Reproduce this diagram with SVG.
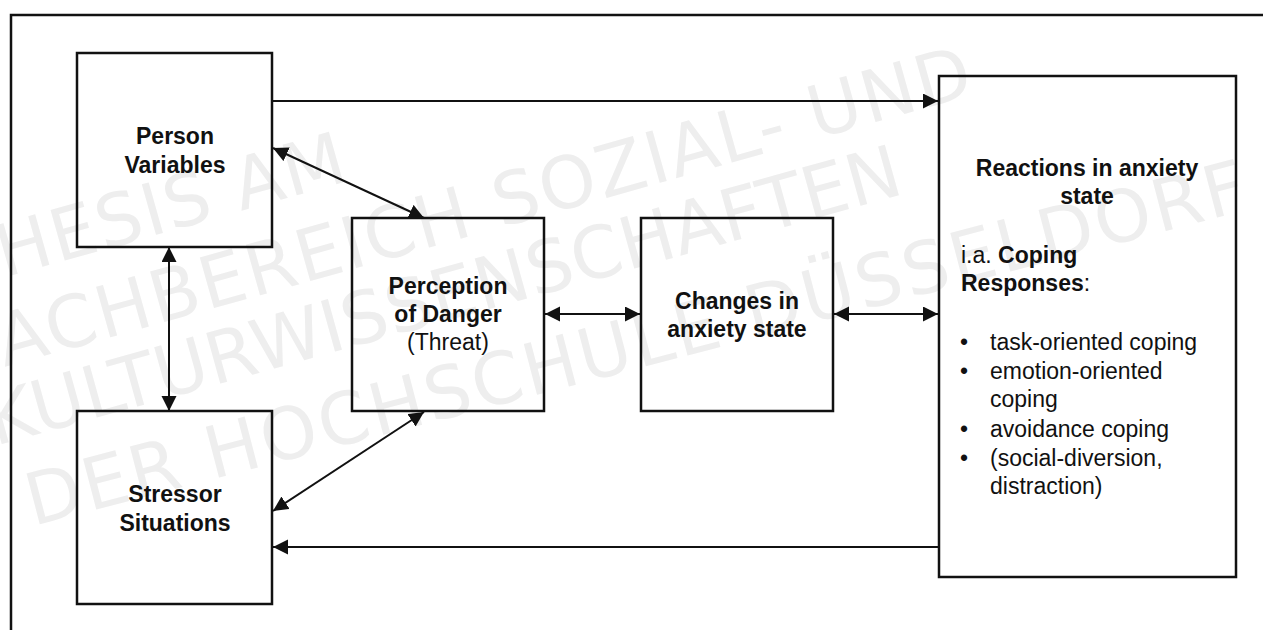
<svg xmlns="http://www.w3.org/2000/svg" width="1263" height="630" viewBox="0 0 1263 630">
<style>
.wm{font-family:"DejaVu Sans","Liberation Sans",sans-serif;font-size:72px;fill:#eeeeee}
.box{fill:none;stroke:#111;stroke-width:2.5}
.b{font-family:"Liberation Sans",Arial,sans-serif;font-size:23px;font-weight:bold;fill:#111;text-anchor:middle}
.n{font-family:"Liberation Sans",Arial,sans-serif;font-size:23px;fill:#111}
.c{stroke:#111;stroke-width:2;fill:none}
</style>
<defs>
<marker id="ah" markerUnits="userSpaceOnUse" markerWidth="16" markerHeight="16" refX="15" refY="7.5" orient="auto-start-reverse">
<path d="M0,0 L15,7.5 L0,15 z" fill="#111"/>
</marker>
</defs>
<rect width="1263" height="630" fill="#fff"/>
<g id="watermark">
<text class="wm" transform="translate(-40,290) rotate(-15.7)" textLength="405" lengthAdjust="spacing">THESIS AM</text>
<text class="wm" transform="translate(-31,377) rotate(-15.7)" textLength="1046" lengthAdjust="spacing">FACHBEREICH SOZIAL- UND</text>
<text class="wm" transform="translate(-5,446) rotate(-15.5)" textLength="945" lengthAdjust="spacing">KULTURWISSENSCHAFTEN</text>
<text class="wm" transform="translate(33,526) rotate(-14.6)" textLength="1258" lengthAdjust="spacing">DER HOCHSCHULE DÜSSELDORF</text>
</g>
<rect id="frame" x="11" y="15" width="1300" height="700" fill="none" stroke="#111" stroke-width="2.5"/>
<g id="person">
<rect class="box" x="77" y="53" width="195" height="194"/>
<text class="b" x="175" y="144">Person</text>
<text class="b" x="175" y="173">Variables</text>
</g>
<g id="stressor">
<rect class="box" x="77" y="411" width="195" height="193"/>
<text class="b" x="175" y="502">Stressor</text>
<text class="b" x="175" y="531">Situations</text>
</g>
<g id="perception">
<rect class="box" x="352" y="218" width="192" height="193"/>
<text class="b" x="448" y="294">Perception</text>
<text class="b" x="448" y="322">of Danger</text>
<text class="n" x="448" y="350" text-anchor="middle">(Threat)</text>
</g>
<g id="changes">
<rect class="box" x="641" y="218" width="192" height="193"/>
<text class="b" x="737" y="309">Changes in</text>
<text class="b" x="737" y="337">anxiety state</text>
</g>
<g id="reactions">
<rect class="box" x="939" y="76" width="297" height="501"/>
<text class="b" x="1087" y="176">Reactions in anxiety</text>
<text class="b" x="1087" y="204">state</text>
<text class="n" x="961" y="263">i.a. <tspan font-weight="bold">Coping</tspan></text>
<text class="n" x="961" y="291"><tspan font-weight="bold">Responses</tspan>:</text>
<text class="n" x="960" y="350">•</text><text class="n" x="990" y="350">task-oriented coping</text>
<text class="n" x="960" y="379">•</text><text class="n" x="990" y="379">emotion-oriented</text>
<text class="n" x="990" y="407">coping</text>
<text class="n" x="960" y="437">•</text><text class="n" x="990" y="437">avoidance coping</text>
<text class="n" x="960" y="466">•</text><text class="n" x="990" y="466">(social-diversion,</text>
<text class="n" x="990" y="494">distraction)</text>
</g>
<g id="connectors">
<path class="c" d="M272,101 H938" marker-end="url(#ah)"/>
<path class="c" d="M273,148 L424,218" marker-start="url(#ah)" marker-end="url(#ah)"/>
<path class="c" d="M169,247 V411" marker-start="url(#ah)" marker-end="url(#ah)"/>
<path class="c" d="M424,412 L273,511" marker-start="url(#ah)" marker-end="url(#ah)"/>
<path class="c" d="M545,314 H640" marker-start="url(#ah)" marker-end="url(#ah)"/>
<path class="c" d="M834,314 H938" marker-start="url(#ah)" marker-end="url(#ah)"/>
<path class="c" d="M938,547 H273" marker-end="url(#ah)"/>
</g>
</svg>
